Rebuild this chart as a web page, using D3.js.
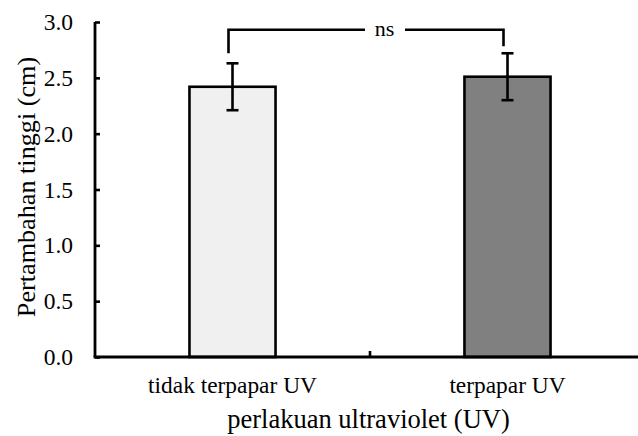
<!DOCTYPE html>
<html>
<head>
<meta charset="utf-8">
<script src="https://cdn.jsdelivr.net/npm/d3@7"></script>
<style>
  body { margin: 0; background: #fff; }
  svg { display: block; font-family: "Liberation Serif", "Times New Roman", serif; }
</style>
</head>
<body>
<svg width="638" height="436"></svg>
<script>
const categories = ["tidak terpapar UV", "terpapar UV"];
const means = [2.42, 2.51];
const errors = [0.21, 0.21];
const fills = ["#f0f0f0", "#808080"];
const yTicks = [0, 0.5, 1.0, 1.5, 2.0, 2.5, 3.0];

const svg = d3.select("svg");
const mLeft = 95, mRight = 645, mTop = 22, mBottom = 357;

const x = d3.scaleBand().domain(categories).range([mLeft, mRight]).paddingInner(0.687).paddingOuter(0.3435);
const y = d3.scaleLinear().domain([0, 3]).range([mBottom, mTop]);

// bars
svg.selectAll(".bar").data(categories).enter().append("rect")
  .attr("x", d => x(d))
  .attr("y", (d, i) => y(means[i]))
  .attr("width", x.bandwidth())
  .attr("height", (d, i) => y(0) - y(means[i]))
  .attr("fill", (d, i) => fills[i])
  .attr("stroke", "#000")
  .attr("stroke-width", 2.6);

// error bars
categories.forEach((c, i) => {
  const cx = x(c) + x.bandwidth() / 2;
  const g = svg.append("g").attr("stroke", "#000").attr("stroke-width", 2.6);
  g.append("line").attr("x1", cx).attr("x2", cx).attr("y1", y(means[i] + errors[i])).attr("y2", y(means[i] - errors[i]));
  g.append("line").attr("x1", cx - 6).attr("x2", cx + 6).attr("y1", y(means[i] + errors[i])).attr("y2", y(means[i] + errors[i]));
  g.append("line").attr("x1", cx - 6).attr("x2", cx + 6).attr("y1", y(means[i] - errors[i])).attr("y2", y(means[i] - errors[i]));
});

// y axis (ticks point inward)
const yAxis = svg.append("g")
  .attr("transform", `translate(${mLeft},0)`)
  .call(d3.axisRight(y).tickValues(yTicks).tickFormat(d3.format(".1f")).tickSize(5));
yAxis.select(".domain").attr("d", `M0,${mTop}V${mBottom}`).attr("stroke-width", 2.8);
yAxis.selectAll(".tick line").attr("stroke-width", 2.6);
yAxis.selectAll(".tick text")
  .attr("x", -22).attr("text-anchor", "end").attr("dy", "0.32em")
  .attr("font-family", "Liberation Serif").attr("font-size", 23.5).attr("fill", "#000");

// x axis
const xAxis = svg.append("g")
  .attr("transform", `translate(0,${mBottom})`)
  .call(d3.axisBottom(x).tickSize(0));
xAxis.select(".domain").attr("d", `M${mLeft - 1.4},0H${mRight}`).attr("stroke-width", 2.8);
xAxis.selectAll(".tick text")
  .attr("y", 36).attr("dy", 0)
  .attr("font-family", "Liberation Serif").attr("font-size", 23.4).attr("fill", "#000");
// divider tick between categories
const mid = (x(categories[0]) + x.bandwidth() + x(categories[1])) / 2;
xAxis.append("line").attr("x1", mid).attr("x2", mid).attr("y1", 0).attr("y2", -6)
  .attr("stroke", "#000").attr("stroke-width", 2.6);

// axis titles
svg.append("text")
  .attr("x", 368.5).attr("y", 428)
  .attr("text-anchor", "middle").attr("font-size", 26.5).attr("fill", "#000")
  .text("perlakuan ultraviolet (UV)");
svg.append("text")
  .attr("transform", "translate(35,187) rotate(-90)")
  .attr("text-anchor", "middle").attr("font-size", 26.2).attr("fill", "#000")
  .text("Pertambahan tinggi (cm)");

// significance bracket
const bx1 = x(categories[0]) + x.bandwidth() / 2 - 4;
const bx2 = x(categories[1]) + x.bandwidth() / 2 - 4;
const by = y(2.93);
const legs = [y(means[0] + errors[0]) - 10, y(means[1] + errors[1]) - 7];
const label = "ns";
const gapL = 365, gapR = 405;
svg.append("path")
  .attr("d", `M${bx1},${legs[0]}V${by}H${gapL}M${gapR},${by}H${bx2}V${legs[1]}`)
  .attr("fill", "none").attr("stroke", "#000").attr("stroke-width", 2.6);
svg.append("text")
  .attr("x", 384.5).attr("y", by + 6)
  .attr("text-anchor", "middle").attr("font-size", 22).attr("fill", "#000")
  .text(label);
</script>
</body>
</html>
